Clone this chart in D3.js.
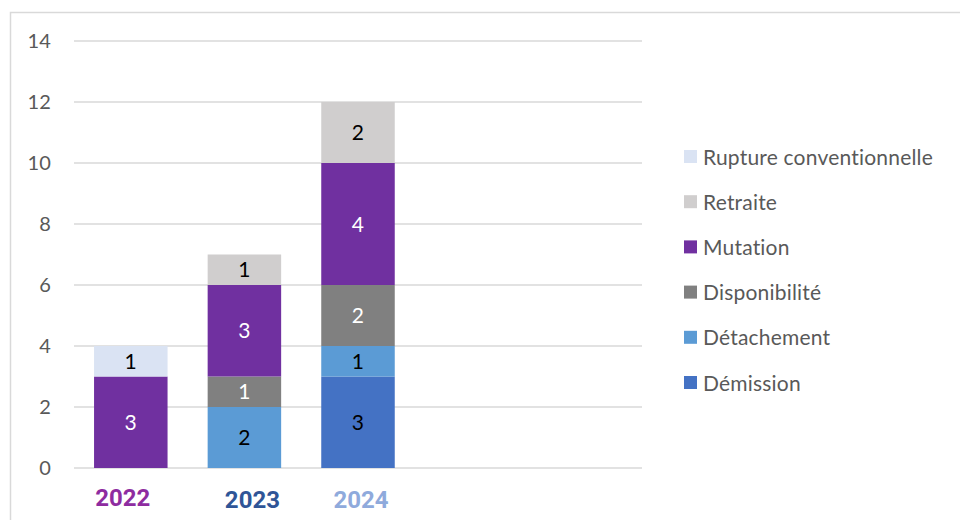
<!DOCTYPE html>
<html>
<head>
<meta charset="utf-8">
<script src="https://cdn.jsdelivr.net/npm/d3@7"></script>
<style>
  body { margin: 0; background: #fff; }
  svg text { font-family: Lato, "Open Sans", sans-serif; font-feature-settings: "liga" 0, "clig" 0; letter-spacing: 0.2px; }
</style>
</head>
<body>
<script>
// data
var years = ["2022", "2023", "2024"]
var series = ["Démission", "Détachement", "Disponibilité", "Mutation", "Retraite", "Rupture conventionnelle"]
var demission     = [0, 0, 3]
var detachement   = [0, 2, 1]
var disponibilite = [0, 1, 2]
var mutation      = [3, 3, 4]
var retraite      = [0, 1, 2]
var rupture       = [1, 0, 0]
var yTicks = [0, 2, 4, 6, 8, 10, 12, 14]

var colors = ["#4472C4", "#5B9BD5", "#808080", "#7030A0", "#D0CECE", "#DAE3F3"]
var labelColors = ["#000", "#000", "#fff", "#fff", "#000", "#000"]
var yearColors = ["#8E2CA0", "#2F5597", "#8FAADC"]
var yearShift = [-8, 8, 3]

var width = 960, height = 520
var plot = {left: 74, right: 642, top: 41, bottom: 468}

var rows = years.map(function (y, i) {
    return {
        year: y,
        "Démission": demission[i],
        "Détachement": detachement[i],
        "Disponibilité": disponibilite[i],
        "Mutation": mutation[i],
        "Retraite": retraite[i],
        "Rupture conventionnelle": rupture[i]
    }
})

var svg = d3.select("body").append("svg")
    .attr("width", width).attr("height", height)

// chart frame
svg.append("rect")
    .attr("x", 10.5).attr("y", 12.5)
    .attr("width", width).attr("height", height)
    .attr("fill", "none").attr("stroke", "#D9D9D9").attr("stroke-width", 1.5)

var step = (plot.right - plot.left) / 5
var x = d3.scaleBand().domain(years)
    .range([plot.left, plot.left + step * years.length])
    .paddingInner(0.353).paddingOuter(0.1765)
var y = d3.scaleLinear().domain([0, 14]).range([plot.bottom, plot.top])

// gridlines
svg.append("g").selectAll("line").data(yTicks).enter()
    .append("line")
    .attr("x1", plot.left).attr("x2", plot.right)
    .attr("y1", function (d) { return y(d) }).attr("y2", function (d) { return y(d) })
    .attr("stroke", "#D9D9D9").attr("stroke-width", 1.5)

// y axis
var yAxis = d3.axisLeft(y).tickValues(yTicks).tickSize(0).tickPadding(23)
var yg = svg.append("g").attr("transform", "translate(" + plot.left + ",0)").call(yAxis)
yg.select(".domain").remove()
yg.selectAll("text").attr("font-size", 20).attr("fill", "#595959")
    .style("font-family", "Lato, sans-serif")

// stacked bars
var stacked = d3.stack().keys(series)(rows)
var layers = svg.append("g").selectAll("g").data(stacked).enter()
    .append("g")
    .attr("fill", function (d, i) { return colors[i] })

layers.selectAll("rect")
    .data(function (d) { return d })
    .enter().append("rect")
    .filter(function (d) { return d[1] > d[0] })
    .attr("x", function (d) { return x(d.data.year) })
    .attr("width", x.bandwidth())
    .attr("y", function (d) { return y(d[1]) })
    .attr("height", function (d) { return y(d[0]) - y(d[1]) })

layers.each(function (layer, li) {
    d3.select(this).selectAll("text")
        .data(layer.filter(function (d) { return d[1] > d[0] }))
        .enter().append("text")
        .attr("x", function (d) { return x(d.data.year) + x.bandwidth() / 2 })
        .attr("y", function (d) { return (y(d[0]) + y(d[1])) / 2 })
        .attr("dy", "0.36em")
        .attr("text-anchor", "middle")
        .attr("font-size", 21)
        .attr("fill", labelColors[li])
        .text(function (d) { return d[1] - d[0] })
})

// year labels
svg.append("g").selectAll("text").data(years).enter()
    .append("text")
    .attr("x", function (d, i) { return x(d) + x.bandwidth() / 2 + yearShift[i] })
    .attr("y", function (d, i) { return i == 0 ? 506 : 508 })
    .attr("text-anchor", "middle")
    .attr("font-size", 24).attr("font-weight", "bold")
    .style("font-family", "Roboto, Arial, sans-serif")
    .style("letter-spacing", "0")
    .attr("fill", function (d, i) { return yearColors[i] })
    .text(function (d) { return d })

// legend (top to bottom is reversed stack order)
var legendItems = series.slice().reverse()
var legend = svg.append("g").selectAll("g").data(legendItems).enter()
    .append("g")
    .attr("transform", function (d, i) { return "translate(684," + (157 + i * 45.2) + ")" })

legend.append("rect")
    .attr("x", 0).attr("y", -7).attr("width", 13).attr("height", 13)
    .attr("fill", function (d) { return colors[series.indexOf(d)] })

legend.append("text")
    .attr("x", 19).attr("dy", "0.36em")
    .attr("font-size", 21).attr("fill", "#595959")
    .text(function (d) { return d })
</script>
</body>
</html>
